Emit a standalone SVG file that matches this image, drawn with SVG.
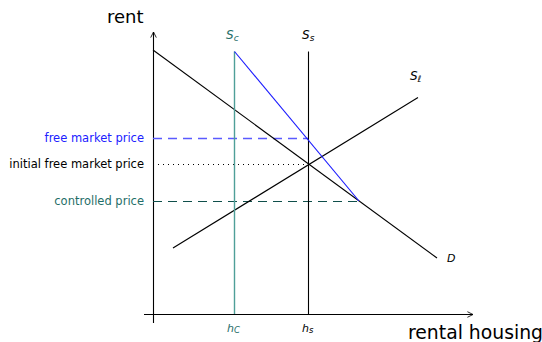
<svg xmlns="http://www.w3.org/2000/svg" width="542" height="342" viewBox="0 0 542 342">
<style>
text{font-family:"DejaVu Sans","Liberation Sans",sans-serif}
.lab{font-size:11.5px;text-anchor:end}
.ax{font-size:18px}
.m{font-style:italic;font-size:11px}
.ln{fill:none;stroke-width:1.1}
</style>
<defs>
<marker id="arr" viewBox="0 0 10 10" refX="9" refY="5" markerWidth="7" markerHeight="7" orient="auto" markerUnits="userSpaceOnUse">
<path d="M1,1 L9,5 L1,9" fill="none" stroke="#000" stroke-width="1.2"/>
</marker>
</defs>
<rect width="542" height="342" fill="#fff"/>
<g id="connectors">
<line x1="153.5" y1="323" x2="153.5" y2="32" stroke="#000" class="ln" marker-end="url(#arr)"/>
<line x1="144" y1="314.5" x2="473" y2="314.5" stroke="#000" class="ln" marker-end="url(#arr)"/>
<line x1="153" y1="138.5" x2="308" y2="138.5" stroke="#5a5aff" stroke-width="1.4" stroke-dasharray="9,6"/>
<line x1="153" y1="164.5" x2="308" y2="164.5" stroke="#000" stroke-width="1" stroke-dasharray="1,4"/>
<line x1="153" y1="201.5" x2="359" y2="201.5" stroke="#0f4f4b" stroke-width="1" stroke-dasharray="9,6"/>
<line x1="153" y1="50" x2="437" y2="258" stroke="#000" class="ln"/>
<line x1="173" y1="248" x2="418" y2="97.5" stroke="#000" class="ln"/>
<line x1="234.5" y1="51.5" x2="234.5" y2="314" stroke="#4f9f98" stroke-width="1.4"/>
<line x1="308.5" y1="51.5" x2="308.5" y2="314" stroke="#000" class="ln"/>
<line x1="234.5" y1="51.5" x2="359" y2="201" stroke="#1a1aff" class="ln"/>
</g>
<g id="axis-labels">
<text class="ax" x="107" y="23">rent</text>
<text class="ax" x="408" y="339" style="font-size:18.8px">rental housing</text>
</g>
<g id="price-labels">
<text class="lab" x="144" y="142" fill="#2020ff">free market price</text>
<text class="lab" x="144" y="168" fill="#000">initial free market price</text>
<text class="lab" x="144" y="205" fill="#1f6e68">controlled price</text>
</g>
<g id="curve-labels">
<text class="m" x="226" y="39" fill="#1f6e68" style="font-size:12px">S<tspan font-size="9" dy="2">c</tspan></text>
<text class="m" x="302" y="39" fill="#000" style="font-size:12px">S<tspan font-size="9" dy="2">s</tspan></text>
<text class="m" x="410" y="80" fill="#000" style="font-size:12px">S<tspan font-size="9" dy="2">ℓ</tspan></text>
<text class="m" x="447" y="262" fill="#000">D</text>
<text class="m" x="227" y="332" fill="#1f6e68">h<tspan font-size="8.5" dy="1">C</tspan></text>
<text class="m" x="302" y="332" fill="#000">h<tspan font-size="8.5" dy="1">s</tspan></text>
</g>
</svg>
